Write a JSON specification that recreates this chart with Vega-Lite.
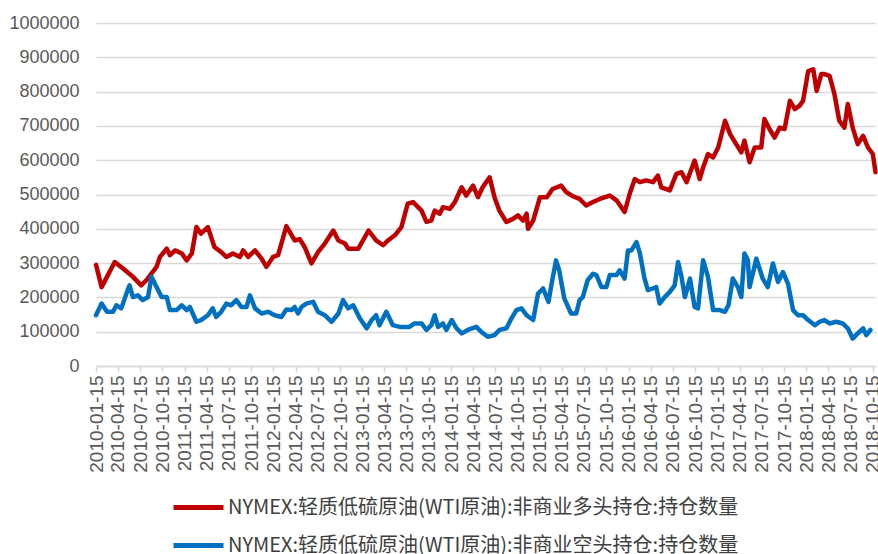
{
  "$schema": "https://vega.github.io/schema/vega-lite/v6.json",
  "width": 780,
  "height": 343,
  "autosize": "none",
  "padding": {"left": 96, "top": 23, "right": 2, "bottom": 188},
  "background": "white",
  "config": {
    "view": {"stroke": null},
    "font": "Liberation Sans"
  },
  "data": {
    "values": [
      {"d":"2010-01-15","s":"L","v":295000},
      {"d":"2010-02-07","s":"L","v":230000},
      {"d":"2010-04-02","s":"L","v":303000},
      {"d":"2010-05-06","s":"L","v":284000},
      {"d":"2010-06-16","s":"L","v":260000},
      {"d":"2010-07-20","s":"L","v":235000},
      {"d":"2010-08-10","s":"L","v":250000},
      {"d":"2010-09-21","s":"L","v":289000},
      {"d":"2010-10-05","s":"L","v":318000},
      {"d":"2010-11-02","s":"L","v":342000},
      {"d":"2010-11-15","s":"L","v":323000},
      {"d":"2010-12-06","s":"L","v":337000},
      {"d":"2011-01-03","s":"L","v":328000},
      {"d":"2011-01-23","s":"L","v":308000},
      {"d":"2011-02-13","s":"L","v":328000},
      {"d":"2011-03-04","s":"L","v":405000},
      {"d":"2011-03-23","s":"L","v":386000},
      {"d":"2011-04-20","s":"L","v":405000},
      {"d":"2011-05-17","s":"L","v":347000},
      {"d":"2011-06-14","s":"L","v":332000},
      {"d":"2011-07-05","s":"L","v":318000},
      {"d":"2011-08-01","s":"L","v":328000},
      {"d":"2011-08-30","s":"L","v":318000},
      {"d":"2011-09-12","s":"L","v":337000},
      {"d":"2011-10-03","s":"L","v":318000},
      {"d":"2011-10-31","s":"L","v":337000},
      {"d":"2011-11-27","s":"L","v":313000},
      {"d":"2011-12-17","s":"L","v":289000},
      {"d":"2012-01-13","s":"L","v":318000},
      {"d":"2012-02-03","s":"L","v":323000},
      {"d":"2012-03-08","s":"L","v":408000},
      {"d":"2012-04-11","s":"L","v":366000},
      {"d":"2012-05-02","s":"L","v":370000},
      {"d":"2012-05-22","s":"L","v":347000},
      {"d":"2012-06-19","s":"L","v":299000},
      {"d":"2012-07-16","s":"L","v":332000},
      {"d":"2012-08-13","s":"L","v":357000},
      {"d":"2012-09-17","s":"L","v":395000},
      {"d":"2012-10-08","s":"L","v":366000},
      {"d":"2012-11-04","s":"L","v":357000},
      {"d":"2012-11-17","s":"L","v":342000},
      {"d":"2012-12-29","s":"L","v":342000},
      {"d":"2013-02-09","s":"L","v":395000},
      {"d":"2013-03-12","s":"L","v":366000},
      {"d":"2013-04-10","s":"L","v":352000},
      {"d":"2013-04-30","s":"L","v":366000},
      {"d":"2013-05-28","s":"L","v":381000},
      {"d":"2013-06-24","s":"L","v":405000},
      {"d":"2013-07-20","s":"L","v":473000},
      {"d":"2013-08-11","s":"L","v":478000},
      {"d":"2013-09-15","s":"L","v":453000},
      {"d":"2013-10-05","s":"L","v":420000},
      {"d":"2013-10-25","s":"L","v":424000},
      {"d":"2013-11-08","s":"L","v":453000},
      {"d":"2013-11-29","s":"L","v":444000},
      {"d":"2013-12-12","s":"L","v":463000},
      {"d":"2014-01-09","s":"L","v":458000},
      {"d":"2014-01-30","s":"L","v":478000},
      {"d":"2014-02-27","s":"L","v":521000},
      {"d":"2014-03-18","s":"L","v":497000},
      {"d":"2014-04-15","s":"L","v":526000},
      {"d":"2014-05-05","s":"L","v":492000},
      {"d":"2014-05-24","s":"L","v":521000},
      {"d":"2014-06-22","s":"L","v":550000},
      {"d":"2014-07-12","s":"L","v":492000},
      {"d":"2014-08-01","s":"L","v":453000},
      {"d":"2014-08-30","s":"L","v":420000},
      {"d":"2014-09-26","s":"L","v":429000},
      {"d":"2014-10-17","s":"L","v":439000},
      {"d":"2014-11-06","s":"L","v":424000},
      {"d":"2014-11-21","s":"L","v":444000},
      {"d":"2014-11-27","s":"L","v":400000},
      {"d":"2014-12-18","s":"L","v":424000},
      {"d":"2015-01-15","s":"L","v":492000},
      {"d":"2015-02-12","s":"L","v":492000},
      {"d":"2015-03-08","s":"L","v":516000},
      {"d":"2015-04-12","s":"L","v":526000},
      {"d":"2015-05-03","s":"L","v":507000},
      {"d":"2015-05-30","s":"L","v":495000},
      {"d":"2015-06-27","s":"L","v":487000},
      {"d":"2015-07-24","s":"L","v":468000},
      {"d":"2015-08-21","s":"L","v":478000},
      {"d":"2015-09-18","s":"L","v":487000},
      {"d":"2015-10-29","s":"L","v":497000},
      {"d":"2015-11-26","s":"L","v":483000},
      {"d":"2015-12-29","s":"L","v":449000},
      {"d":"2016-01-19","s":"L","v":502000},
      {"d":"2016-02-09","s":"L","v":545000},
      {"d":"2016-03-01","s":"L","v":536000},
      {"d":"2016-03-27","s":"L","v":541000},
      {"d":"2016-04-24","s":"L","v":536000},
      {"d":"2016-05-14","s":"L","v":555000},
      {"d":"2016-05-28","s":"L","v":521000},
      {"d":"2016-07-02","s":"L","v":512000},
      {"d":"2016-07-29","s":"L","v":560000},
      {"d":"2016-08-19","s":"L","v":565000},
      {"d":"2016-09-09","s":"L","v":536000},
      {"d":"2016-10-12","s":"L","v":599000},
      {"d":"2016-11-02","s":"L","v":545000},
      {"d":"2016-11-16","s":"L","v":579000},
      {"d":"2016-12-06","s":"L","v":618000},
      {"d":"2016-12-27","s":"L","v":608000},
      {"d":"2017-01-17","s":"L","v":637000},
      {"d":"2017-02-14","s":"L","v":715000},
      {"d":"2017-03-07","s":"L","v":676000},
      {"d":"2017-04-01","s":"L","v":647000},
      {"d":"2017-04-22","s":"L","v":623000},
      {"d":"2017-05-05","s":"L","v":657000},
      {"d":"2017-05-26","s":"L","v":594000},
      {"d":"2017-06-16","s":"L","v":637000},
      {"d":"2017-07-13","s":"L","v":637000},
      {"d":"2017-07-26","s":"L","v":720000},
      {"d":"2017-08-16","s":"L","v":691000},
      {"d":"2017-09-06","s":"L","v":666000},
      {"d":"2017-09-27","s":"L","v":695000},
      {"d":"2017-10-17","s":"L","v":691000},
      {"d":"2017-11-08","s":"L","v":773000},
      {"d":"2017-11-28","s":"L","v":749000},
      {"d":"2017-12-18","s":"L","v":759000},
      {"d":"2018-01-01","s":"L","v":773000},
      {"d":"2018-01-22","s":"L","v":860000},
      {"d":"2018-02-12","s":"L","v":865000},
      {"d":"2018-02-26","s":"L","v":802000},
      {"d":"2018-03-17","s":"L","v":851000},
      {"d":"2018-03-30","s":"L","v":851000},
      {"d":"2018-04-20","s":"L","v":846000},
      {"d":"2018-05-10","s":"L","v":793000},
      {"d":"2018-05-30","s":"L","v":715000},
      {"d":"2018-06-20","s":"L","v":695000},
      {"d":"2018-07-04","s":"L","v":764000},
      {"d":"2018-07-24","s":"L","v":695000},
      {"d":"2018-08-14","s":"L","v":647000},
      {"d":"2018-09-05","s":"L","v":671000},
      {"d":"2018-09-25","s":"L","v":637000},
      {"d":"2018-10-15","s":"L","v":618000},
      {"d":"2018-10-26","s":"L","v":565000},
      {"d":"2010-01-15","s":"S","v":148000},
      {"d":"2010-02-07","s":"S","v":182000},
      {"d":"2010-03-01","s":"S","v":158000},
      {"d":"2010-03-26","s":"S","v":158000},
      {"d":"2010-04-09","s":"S","v":177000},
      {"d":"2010-04-29","s":"S","v":168000},
      {"d":"2010-05-20","s":"S","v":211000},
      {"d":"2010-06-02","s":"S","v":235000},
      {"d":"2010-06-16","s":"S","v":201000},
      {"d":"2010-07-06","s":"S","v":206000},
      {"d":"2010-07-26","s":"S","v":192000},
      {"d":"2010-08-17","s":"S","v":201000},
      {"d":"2010-08-31","s":"S","v":260000},
      {"d":"2010-09-21","s":"S","v":230000},
      {"d":"2010-10-12","s":"S","v":201000},
      {"d":"2010-11-02","s":"S","v":201000},
      {"d":"2010-11-15","s":"S","v":163000},
      {"d":"2010-12-12","s":"S","v":163000},
      {"d":"2011-01-03","s":"S","v":177000},
      {"d":"2011-01-23","s":"S","v":163000},
      {"d":"2011-02-05","s":"S","v":172000},
      {"d":"2011-03-04","s":"S","v":129000},
      {"d":"2011-03-23","s":"S","v":134000},
      {"d":"2011-04-20","s":"S","v":148000},
      {"d":"2011-05-10","s":"S","v":168000},
      {"d":"2011-05-24","s":"S","v":143000},
      {"d":"2011-06-14","s":"S","v":158000},
      {"d":"2011-07-05","s":"S","v":182000},
      {"d":"2011-07-25","s":"S","v":177000},
      {"d":"2011-08-15","s":"S","v":192000},
      {"d":"2011-09-05","s":"S","v":172000},
      {"d":"2011-09-26","s":"S","v":172000},
      {"d":"2011-10-10","s":"S","v":206000},
      {"d":"2011-10-31","s":"S","v":168000},
      {"d":"2011-11-27","s":"S","v":153000},
      {"d":"2011-12-24","s":"S","v":158000},
      {"d":"2012-01-20","s":"S","v":148000},
      {"d":"2012-02-17","s":"S","v":143000},
      {"d":"2012-03-08","s":"S","v":165000},
      {"d":"2012-03-29","s":"S","v":163000},
      {"d":"2012-04-11","s":"S","v":172000},
      {"d":"2012-04-25","s":"S","v":153000},
      {"d":"2012-05-09","s":"S","v":172000},
      {"d":"2012-05-29","s":"S","v":182000},
      {"d":"2012-06-26","s":"S","v":187000},
      {"d":"2012-07-16","s":"S","v":158000},
      {"d":"2012-08-13","s":"S","v":148000},
      {"d":"2012-09-10","s":"S","v":129000},
      {"d":"2012-10-08","s":"S","v":153000},
      {"d":"2012-10-27","s":"S","v":192000},
      {"d":"2012-11-17","s":"S","v":168000},
      {"d":"2012-12-08","s":"S","v":177000},
      {"d":"2013-01-04","s":"S","v":139000},
      {"d":"2013-02-01","s":"S","v":110000},
      {"d":"2013-02-22","s":"S","v":134000},
      {"d":"2013-03-12","s":"S","v":148000},
      {"d":"2013-03-26","s":"S","v":119000},
      {"d":"2013-04-23","s":"S","v":158000},
      {"d":"2013-05-20","s":"S","v":119000},
      {"d":"2013-06-17","s":"S","v":114000},
      {"d":"2013-07-27","s":"S","v":114000},
      {"d":"2013-08-17","s":"S","v":124000},
      {"d":"2013-09-15","s":"S","v":124000},
      {"d":"2013-10-05","s":"S","v":105000},
      {"d":"2013-10-25","s":"S","v":119000},
      {"d":"2013-11-08","s":"S","v":148000},
      {"d":"2013-11-22","s":"S","v":114000},
      {"d":"2013-12-12","s":"S","v":124000},
      {"d":"2013-12-26","s":"S","v":105000},
      {"d":"2014-01-17","s":"S","v":134000},
      {"d":"2014-02-06","s":"S","v":110000},
      {"d":"2014-02-27","s":"S","v":95000},
      {"d":"2014-03-24","s":"S","v":105000},
      {"d":"2014-04-28","s":"S","v":114000},
      {"d":"2014-05-18","s":"S","v":100000},
      {"d":"2014-06-14","s":"S","v":85000},
      {"d":"2014-07-12","s":"S","v":90000},
      {"d":"2014-08-01","s":"S","v":105000},
      {"d":"2014-08-30","s":"S","v":110000},
      {"d":"2014-09-20","s":"S","v":139000},
      {"d":"2014-10-10","s":"S","v":163000},
      {"d":"2014-10-31","s":"S","v":168000},
      {"d":"2014-11-21","s":"S","v":148000},
      {"d":"2014-12-18","s":"S","v":134000},
      {"d":"2015-01-07","s":"S","v":211000},
      {"d":"2015-01-28","s":"S","v":226000},
      {"d":"2015-02-19","s":"S","v":187000},
      {"d":"2015-03-04","s":"S","v":240000},
      {"d":"2015-03-22","s":"S","v":308000},
      {"d":"2015-04-04","s":"S","v":279000},
      {"d":"2015-04-25","s":"S","v":197000},
      {"d":"2015-05-23","s":"S","v":153000},
      {"d":"2015-06-13","s":"S","v":153000},
      {"d":"2015-06-27","s":"S","v":192000},
      {"d":"2015-07-10","s":"S","v":201000},
      {"d":"2015-07-30","s":"S","v":250000},
      {"d":"2015-08-21","s":"S","v":269000},
      {"d":"2015-09-04","s":"S","v":265000},
      {"d":"2015-09-25","s":"S","v":230000},
      {"d":"2015-10-15","s":"S","v":230000},
      {"d":"2015-10-29","s":"S","v":265000},
      {"d":"2015-11-26","s":"S","v":265000},
      {"d":"2015-12-09","s":"S","v":279000},
      {"d":"2015-12-29","s":"S","v":255000},
      {"d":"2016-01-12","s":"S","v":337000},
      {"d":"2016-01-26","s":"S","v":337000},
      {"d":"2016-02-16","s":"S","v":361000},
      {"d":"2016-03-01","s":"S","v":328000},
      {"d":"2016-03-20","s":"S","v":255000},
      {"d":"2016-04-03","s":"S","v":221000},
      {"d":"2016-04-24","s":"S","v":226000},
      {"d":"2016-05-07","s":"S","v":230000},
      {"d":"2016-05-21","s":"S","v":182000},
      {"d":"2016-06-11","s":"S","v":201000},
      {"d":"2016-07-02","s":"S","v":216000},
      {"d":"2016-07-22","s":"S","v":235000},
      {"d":"2016-08-05","s":"S","v":303000},
      {"d":"2016-08-19","s":"S","v":260000},
      {"d":"2016-09-02","s":"S","v":201000},
      {"d":"2016-09-23","s":"S","v":255000},
      {"d":"2016-10-12","s":"S","v":172000},
      {"d":"2016-10-26","s":"S","v":168000},
      {"d":"2016-11-16","s":"S","v":308000},
      {"d":"2016-12-06","s":"S","v":260000},
      {"d":"2016-12-27","s":"S","v":163000},
      {"d":"2017-01-24","s":"S","v":163000},
      {"d":"2017-02-14","s":"S","v":158000},
      {"d":"2017-02-28","s":"S","v":177000},
      {"d":"2017-03-18","s":"S","v":255000},
      {"d":"2017-04-08","s":"S","v":230000},
      {"d":"2017-04-22","s":"S","v":201000},
      {"d":"2017-05-05","s":"S","v":328000},
      {"d":"2017-05-19","s":"S","v":308000},
      {"d":"2017-05-26","s":"S","v":230000},
      {"d":"2017-06-23","s":"S","v":313000},
      {"d":"2017-07-19","s":"S","v":255000},
      {"d":"2017-08-09","s":"S","v":230000},
      {"d":"2017-08-30","s":"S","v":299000},
      {"d":"2017-09-20","s":"S","v":245000},
      {"d":"2017-10-10","s":"S","v":274000},
      {"d":"2017-10-31","s":"S","v":240000},
      {"d":"2017-11-21","s":"S","v":163000},
      {"d":"2017-12-11","s":"S","v":148000},
      {"d":"2018-01-01","s":"S","v":148000},
      {"d":"2018-01-22","s":"S","v":134000},
      {"d":"2018-02-19","s":"S","v":119000},
      {"d":"2018-03-10","s":"S","v":129000},
      {"d":"2018-03-30","s":"S","v":134000},
      {"d":"2018-04-20","s":"S","v":124000},
      {"d":"2018-05-17","s":"S","v":129000},
      {"d":"2018-06-13","s":"S","v":124000},
      {"d":"2018-07-04","s":"S","v":110000},
      {"d":"2018-07-24","s":"S","v":80000},
      {"d":"2018-08-14","s":"S","v":95000},
      {"d":"2018-09-05","s":"S","v":110000},
      {"d":"2018-09-18","s":"S","v":90000},
      {"d":"2018-10-05","s":"S","v":105000}
    ]
  },
  "mark": {"type": "line", "strokeWidth": 4.5, "strokeJoin": "round", "strokeCap": "round"},
  "encoding": {
    "x": {
      "field": "d",
      "type": "temporal",
      "scale": {
        "type": "utc",
        "domain": [{"year": 2010, "month": 1, "date": 15, "utc": true}, {"year": 2018, "month": 10, "date": 28, "utc": true}]
      },
      "axis": {
        "title": null,
        "grid": false,
        "labelExpr": "utcFormat(datum.value, '%Y-%m-%d')",
        "labelAngle": -90,
        "labelFont": "Liberation Sans",
        "labelFontSize": 19,
        "labelColor": "#595959",
        "labelPadding": 3,
        "labelOverlap": false,
        "labelFlush": false,
        "domainColor": "#d9d9d9",
        "domainWidth": 1.5,
        "tickColor": "#d9d9d9",
        "tickSize": 6,
        "tickWidth": 1.5,
        "values": [
          {"year":2010,"month":1,"date":15,"utc":true},{"year":2010,"month":4,"date":15,"utc":true},{"year":2010,"month":7,"date":15,"utc":true},{"year":2010,"month":10,"date":15,"utc":true},
          {"year":2011,"month":1,"date":15,"utc":true},{"year":2011,"month":4,"date":15,"utc":true},{"year":2011,"month":7,"date":15,"utc":true},{"year":2011,"month":10,"date":15,"utc":true},
          {"year":2012,"month":1,"date":15,"utc":true},{"year":2012,"month":4,"date":15,"utc":true},{"year":2012,"month":7,"date":15,"utc":true},{"year":2012,"month":10,"date":15,"utc":true},
          {"year":2013,"month":1,"date":15,"utc":true},{"year":2013,"month":4,"date":15,"utc":true},{"year":2013,"month":7,"date":15,"utc":true},{"year":2013,"month":10,"date":15,"utc":true},
          {"year":2014,"month":1,"date":15,"utc":true},{"year":2014,"month":4,"date":15,"utc":true},{"year":2014,"month":7,"date":15,"utc":true},{"year":2014,"month":10,"date":15,"utc":true},
          {"year":2015,"month":1,"date":15,"utc":true},{"year":2015,"month":4,"date":15,"utc":true},{"year":2015,"month":7,"date":15,"utc":true},{"year":2015,"month":10,"date":15,"utc":true},
          {"year":2016,"month":1,"date":15,"utc":true},{"year":2016,"month":4,"date":15,"utc":true},{"year":2016,"month":7,"date":15,"utc":true},{"year":2016,"month":10,"date":15,"utc":true},
          {"year":2017,"month":1,"date":15,"utc":true},{"year":2017,"month":4,"date":15,"utc":true},{"year":2017,"month":7,"date":15,"utc":true},{"year":2017,"month":10,"date":15,"utc":true},
          {"year":2018,"month":1,"date":15,"utc":true},{"year":2018,"month":4,"date":15,"utc":true},{"year":2018,"month":7,"date":15,"utc":true},{"year":2018,"month":10,"date":15,"utc":true}
        ]
      }
    },
    "y": {
      "field": "v",
      "type": "quantitative",
      "scale": {"domain": [0, 1000000], "nice": false},
      "axis": {
        "title": null,
        "values": [0, 100000, 200000, 300000, 400000, 500000, 600000, 700000, 800000, 900000, 1000000],
        "format": "d",
        "domain": false,
        "ticks": false,
        "labelFont": "Liberation Sans",
        "labelFontSize": 18,
        "labelColor": "#595959",
        "labelPadding": 17,
        "gridColor": "#d9d9d9",
        "gridWidth": 1.5
      }
    },
    "color": {
      "field": "s",
      "type": "nominal",
      "scale": {"domain": ["L", "S"], "range": ["#C00000", "#0070C0"]},
      "legend": {
        "title": null,
        "orient": "none",
        "legendX": 75,
        "legendY": 457,
        "direction": "vertical",
        "symbolType": "stroke",
        "symbolSize": 2500,
        "symbolStrokeWidth": 5,
        "labelFont": "Noto Sans CJK SC",
        "labelFontSize": 20,
        "labelColor": "#404040",
        "labelLimit": 0,
        "labelOffset": 2,
        "rowPadding": -10,
        "labelExpr": "datum.value == 'L' ? 'NYMEX:轻质低硫原油(WTI原油):非商业多头持仓:持仓数量' : 'NYMEX:轻质低硫原油(WTI原油):非商业空头持仓:持仓数量'"
      }
    }
  }
}
